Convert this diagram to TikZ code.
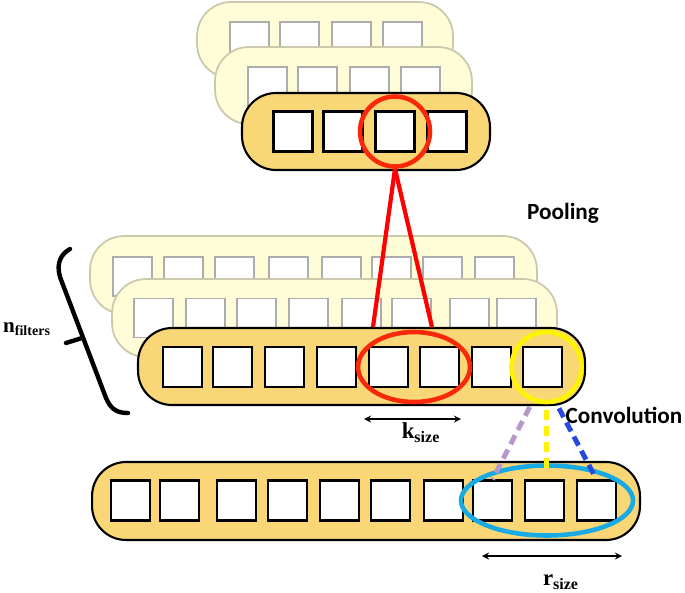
\documentclass[tikz,border=0pt]{standalone}
\usepackage{fontspec}
\setmainfont{Liberation Serif}
\newfontfamily\calfont{Carlito}
\usetikzlibrary{shapes.geometric}

\definecolor{paleyel}{RGB}{255,253,216}
\definecolor{paleedge}{RGB}{204,200,172}
\definecolor{boxgray}{RGB}{172,172,172}
\definecolor{goldfill}{RGB}{249,214,118}
\definecolor{selred}{RGB}{250,40,10}
\definecolor{linered}{RGB}{255,0,0}
\definecolor{selyel}{RGB}{255,244,0}
\definecolor{selcyan}{RGB}{24,170,228}
\definecolor{dashlil}{RGB}{182,152,202}
\definecolor{dashblue}{RGB}{40,72,222}

\begin{document}
\begin{tikzpicture}[>=stealth, x=0.02cm, y=-0.02cm,
    backpanel/.style={rectangle, rounded corners=0.68cm, draw=paleedge, line width=1pt, fill=paleyel, inner sep=0pt},
    frontpanel/.style={rectangle, rounded corners=0.68cm, draw=black, line width=1.2pt, fill=goldfill, inner sep=0pt},
    backbox/.style={rectangle, draw=boxgray, line width=0.9pt, fill=white, minimum width=0.78cm, minimum height=0.78cm, inner sep=0pt},
    frontbox/.style={rectangle, draw=black, line width=1.2pt, fill=white, minimum width=0.78cm, minimum height=0.8cm, inner sep=0pt},
    ring/.style={draw=#1, line width=2.6pt, inner sep=0pt},
    fandash/.style={draw=#1, line width=2.8pt, dash pattern=on 0.2cm off 0.12cm, shorten <=0.12cm},
    dimline/.style={<->, line width=0.8pt},
    sublabel/.style={font=\fontsize{13}{15}\selectfont\bfseries, inner sep=0pt},
    steplabel/.style={font=\calfont\fontsize{13.2}{15}\selectfont\bfseries, inner sep=0pt}]

    \useasboundingbox (0,0) rectangle (685,592);

    % =================================================================
    % LOP TREN: POOLING
    % =================================================================
    \node[backpanel, minimum width=5.12cm, minimum height=1.52cm] (ptopA) at (325,40) {};
    \foreach \x [count=\i] in {230,280,332,383}
        \node[backbox] (ta\i) at (\x+19.5,41.5) {};
    \node[backpanel, minimum width=5.14cm, minimum height=1.54cm] (ptopB) at (343.5,85.5) {};
    \foreach \x [count=\i] in {248,298,350,401}
        \node[backbox] (tb\i) at (\x+19.5,86.5) {};
    \node[frontpanel, minimum width=4.96cm, minimum height=1.54cm] (ptop) at (366,131.5) {};
    \foreach \x [count=\i] in {273,323,375,427}
        \node[frontbox] (t\i) at (\x+20,131.5) {};

    % Vong do quanh o duoc chon
    \node[ring=selred, circle, minimum size=1.4cm] (poolsel) at (t3) {};

    % =================================================================
    % LOP GIUA: N_FILTERS BAN DO DAC TRUNG
    % =================================================================
    \node[backpanel, minimum width=8.94cm, minimum height=1.56cm] (pmidA) at (313.5,275) {};
    \foreach \x [count=\i] in {113,164,215,269,322,372,423,475}
        \node[backbox] (ma\i) at (\x+19.5,276.5) {};
    \node[backpanel, minimum width=8.9cm, minimum height=1.56cm] (pmidB) at (334.5,318) {};
    \foreach \x [count=\i] in {134,186,237,289,342,392,450,497}
        \node[backbox] (mb\i) at (\x+19.5,318) {};
    \node[frontpanel, minimum width=8.94cm, minimum height=1.54cm] (pmid) at (361.5,366.5) {};
    \foreach \x [count=\i] in {163,213,265,317,369,420,472,523}
        \node[frontbox] (m\i) at (\x+19.5,367) {};

    % Elip do (k_size) va vong vang (1 o tich chap)
    \node[ring=selred, ellipse, minimum width=2.24cm, minimum height=1.4cm] (ksel) at (414,367) {};
    \node[ring=selyel, circle, minimum size=1.4cm, xshift=0.08cm] (convsel) at (m8) {};

    % Hai duong do noi xuong
    \coordinate (kL) at (373,327);
    \coordinate (kR) at (432,327);
    \draw[linered, line width=2.4pt] (poolsel.south) -- (kL);
    \draw[linered, line width=2.4pt] (poolsel.south) -- (kR);

    % Ngoac nhon ben trai
    \draw[line width=2.5pt, line cap=round] (70,249) .. controls (61,254) and (56,263) .. (60,277)
        -- (106,398) .. controls (111,410) and (118,413) .. (128,413);
    \draw[line width=2.5pt, line cap=round] (82,338) -- (66,343);
    \node[sublabel, font=\fontsize{12}{14}\selectfont\bfseries] (nfil) at (27,329) {n\textsubscript{filters}};

    % =================================================================
    % LOP DUOI: DAU VAO
    % =================================================================
    \node[frontpanel, minimum width=10.96cm, minimum height=1.56cm] (pbot) at (366,501) {};
    \foreach \x [count=\i] in {111,160,217,268,320,371,424,473,525,577}
        \node[frontbox] (b\i) at (\x+19.5,500.5) {};
    \node[ring=selcyan, ellipse, minimum width=3.44cm, minimum height=1.4cm, xshift=0.05cm] (rsel) at (b9) {};

    % Ba net dut toa xuong
    \draw[fandash=dashlil] (convsel.-112) -- (b8.north);
    \draw[fandash=selyel, shorten >=0.12cm] (convsel.south) -- (convsel.south |- b9.north);
    \draw[fandash=dashblue, shorten >=0.06cm] (convsel.-75) -- (b10.north);

    % Mui ten kich thuoc
    \coordinate (kA) at (364,419);
    \coordinate (kB) at (461,419);
    \draw[dimline] (kA) -- (kB);
    \node[sublabel] (ksz) at (421,433) {k\textsubscript{size}};
    \coordinate (rA) at (482,556);
    \coordinate (rB) at (622,556);
    \draw[dimline] (rA) -- (rB);
    \node[sublabel] (rsz) at (561,582) {r\textsubscript{size}};

    % Nhan cac buoc
    \node[steplabel] (pool) at (563,213) {Pooling};
    \node[steplabel] (conv) at (624,415) {Convolution};

\end{tikzpicture}
\end{document}
